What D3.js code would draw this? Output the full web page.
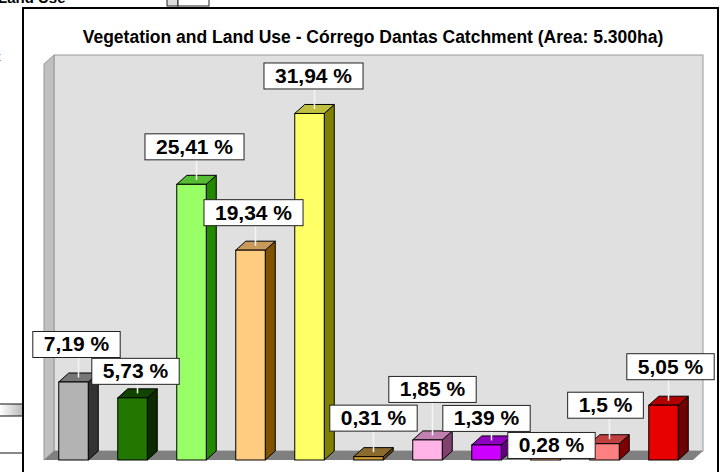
<!DOCTYPE html>
<html>
<head>
<meta charset="utf-8">
<script src="https://cdn.jsdelivr.net/npm/d3@7"></script>
<style>
  body { margin: 0; background: #fff; }
  svg { display: block; font-family: Arial, "Liberation Sans", sans-serif; }
</style>
</head>
<body>
<svg id="chart"></svg>
<script>
const width = 724;
const height = 472;

// data
const categories = ["c1", "c2", "c3", "c4", "c5", "c6", "c7", "c8", "c9", "c10", "c11"];
const values = [7.19, 5.73, 25.41, 19.34, 31.94, 0.31, 1.85, 1.39, 0.28, 1.5, 5.05];
const labels = ["7,19 %", "5,73 %", "25,41 %", "19,34 %", "31,94 %", "0,31 %", "1,85 %", "1,39 %", "0,28 %", "1,5 %", "5,05 %"];
// front / side / top colours of each 3D bar
const frontColors = ["#b3b3b3", "#227700", "#99ff66", "#ffcc80", "#ffff66", "#cc9933", "#ffb3e6", "#cc00ff", "#ff9966", "#ff8080", "#e60000"];
const sideColors = ["#333333", "#0b2a00", "#228800", "#7f5200", "#808000", "#664411", "#804070", "#600080", "#803300", "#800000", "#700000"];
const topColors = ["#777777", "#114400", "#55bb33", "#c89a5a", "#c0c040", "#8b6a2e", "#c080b0", "#9000c0", "#c06030", "#c04040", "#b00000"];
// label boxes were moved by hand in the original: [dx, gap above bar top]
const labelNudge = [[-2, 20], [-2, 9], [-2, 20], [-2, 20], [-1, 20], [0, 21], [0, 33], [-5, 9], [1, -6], [-4, 21], [2, 21]];

const title = "Vegetation and Land Use - Córrego Dantas Catchment (Area: 5.300ha)";

const svg = d3.select("#chart").attr("width", width).attr("height", height);

// bits of the spreadsheet behind the chart
svg.append("text").attr("x", -2).attr("y", 3).attr("font-weight", "bold").attr("font-size", 15).text("Land Use");
svg.append("text").attr("x", -3).attr("y", 61).attr("font-size", 13).attr("fill", "#333").text("t");
svg.append("rect").attr("x", 167).attr("y", -2).attr("width", 11).attr("height", 8).attr("fill", "#ddd").attr("stroke", "#222");
svg.append("rect").attr("x", 178).attr("y", -2).attr("width", 31).attr("height", 8).attr("fill", "#fff").attr("stroke", "#222");
const grad = svg.append("defs").append("linearGradient").attr("id", "tab").attr("x1", 0).attr("x2", 1);
grad.append("stop").attr("offset", 0).attr("stop-color", "#fff");
grad.append("stop").attr("offset", 1).attr("stop-color", "#bbb");
svg.append("rect").attr("x", 0).attr("y", 404).attr("width", 22).attr("height", 12).attr("fill", "url(#tab)");
[404, 416, 453].forEach(y => svg.append("line").attr("x1", 0).attr("x2", 22).attr("y1", y).attr("y2", y).attr("stroke", "#111"));

// chart frame
svg.append("rect").attr("x", 23).attr("y", 8).attr("width", 695).attr("height", 480)
  .attr("fill", "#fff").attr("stroke", "#000").attr("stroke-width", 2);

svg.append("text").attr("x", 373).attr("y", 43).attr("text-anchor", "middle")
  .attr("font-weight", "bold").attr("font-size", 17.5).text(title);

// scales (front plane)
const depthX = 10, depthY = 9;
const x = d3.scaleBand().domain(categories).range([44, 693]).paddingInner(0.5).paddingOuter(0.25);
const y = d3.scaleLinear().domain([0, 36.5]).range([460, 64]);
const yBase = y(0), yTop = y(36.5);

const g = svg.append("g");
// back wall, side wall, floor
g.append("rect").attr("x", 44 + depthX).attr("y", yTop - depthY).attr("width", 649).attr("height", yBase - yTop)
  .attr("fill", "#e0e0e0").attr("stroke", "#999");
g.append("polygon")
  .attr("points", [[44, yTop], [44 + depthX, yTop - depthY], [44 + depthX, yBase - depthY], [44, yBase]].join(" "))
  .attr("fill", "#c0c0c0").attr("stroke", "#999");
g.append("polygon")
  .attr("points", [[44, yBase], [44 + depthX, yBase - depthY], [693 + depthX, yBase - depthY], [693, yBase]].join(" "))
  .attr("fill", "#808080");

const bw = x.bandwidth();
const bars = g.selectAll(".bar").data(values).enter().append("g").attr("class", "bar");

bars.append("polygon") // side
  .attr("points", (d, i) => {
    const x0 = x(categories[i]) + bw, y0 = y(d);
    return [[x0, y0], [x0 + depthX, y0 - depthY], [x0 + depthX, yBase - depthY], [x0, yBase]].join(" ");
  })
  .attr("fill", (d, i) => sideColors[i]).attr("stroke", "#000").attr("stroke-width", 1);
bars.append("polygon") // top
  .attr("points", (d, i) => {
    const x0 = x(categories[i]), y0 = y(d);
    return [[x0, y0], [x0 + depthX, y0 - depthY], [x0 + bw + depthX, y0 - depthY], [x0 + bw, y0]].join(" ");
  })
  .attr("fill", (d, i) => topColors[i]).attr("stroke", "#000").attr("stroke-width", 1);
bars.append("rect") // front
  .attr("x", (d, i) => x(categories[i]))
  .attr("y", d => y(d))
  .attr("width", bw)
  .attr("height", d => yBase - y(d))
  .attr("fill", (d, i) => frontColors[i]).attr("stroke", "#000").attr("stroke-width", 1);

// data labels
const lab = g.selectAll(".lab").data(values).enter().append("g").attr("class", "lab");
lab.each(function (d, i) {
  const el = d3.select(this);
  const fx = x(categories[i]) + bw / 2 + depthX / 2;
  const fy = y(d) - depthY / 2;
  const cx = fx + labelNudge[i][0];
  const bottom = fy - labelNudge[i][1];
  const bh = 26;
  if (labelNudge[i][1] > 0) {
    el.append("line").attr("x1", fx).attr("x2", fx).attr("y1", bottom).attr("y2", fy)
      .attr("stroke", "#f4f4f4").attr("stroke-width", 1.5);
  }
  const box = el.append("rect").attr("y", bottom - bh).attr("height", bh)
    .attr("fill", "#fff").attr("stroke", "#222").attr("stroke-width", 1);
  const t = el.append("text").attr("x", cx).attr("y", bottom - 6).attr("text-anchor", "middle")
    .attr("font-weight", "bold").attr("font-size", 21).attr("fill", "#000").text(labels[i]);
  const tw = t.node().getComputedTextLength();
  box.attr("x", cx - tw / 2 - 11).attr("width", tw + 22);
});
</script>
</body>
</html>
